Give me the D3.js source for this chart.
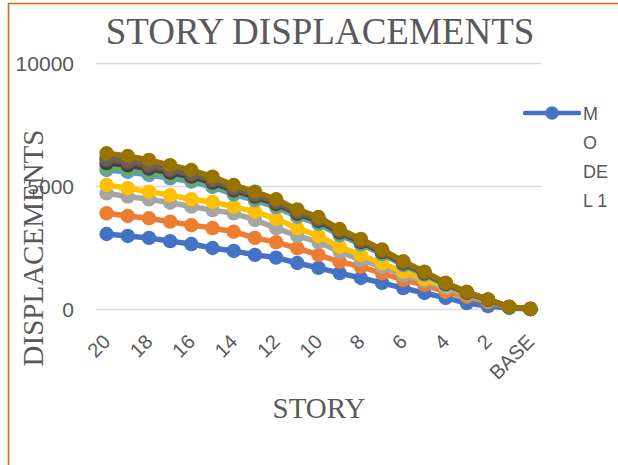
<!DOCTYPE html>
<html>
<head>
<meta charset="utf-8">
<script src="https://cdn.jsdelivr.net/npm/d3@7"></script>
<style>
  html, body { margin: 0; padding: 0; background: #fff; }
  svg { display: block; }
</style>
</head>
<body>
<svg id="chart" width="618" height="465"></svg>
<script>
// Stories from the top floor down to the base
const stories = ["20","19","18","17","16","15","14","13","12","11","10","9","8","7","6","5","4","3","2","1","BASE"];
const tickLabels = ["20","18","16","14","12","10","8","6","4","2","BASE"];
const yTicks = [0, 5000, 10000];

const seriesNames = ["MODEL 1","MODEL 2","MODEL 3","MODEL 4","MODEL 5","MODEL 6","MODEL 7","MODEL 8","MODEL 9","MODEL 10"];
const seriesColors = ["#4472C4","#ED7D31","#A5A5A5","#FFC000","#5B9BD5","#70AD47","#264478","#9E480E","#636363","#997300"];

// Displacement per story, one array per model
const model1  = [3050,2970,2890,2760,2640,2480,2360,2200,2090,1870,1670,1460,1260,1060,850,650,450,240,120,40,0];
const model2  = [3890,3780,3690,3550,3410,3290,3140,2890,2720,2470,2200,1920,1720,1450,1180,980,700,500,280,80,0];
const model3  = [4700,4570,4460,4320,4160,4020,3890,3620,3290,2970,2720,2330,1990,1720,1380,1140,850,590,320,80,0];
const model4  = [5040,4910,4770,4630,4460,4350,4160,3960,3660,3290,2970,2530,2200,1860,1520,1220,930,620,340,90,0];
const model5  = [5650,5570,5450,5310,5180,4960,4660,4420,4140,3750,3460,3000,2630,2230,1780,1390,970,630,350,75,0];
const model6  = [5770,5690,5570,5420,5270,5040,4740,4490,4200,3810,3520,3050,2670,2270,1810,1420,990,645,360,77,0];
const model7  = [5930,5840,5710,5540,5380,5140,4820,4570,4270,3880,3580,3110,2720,2310,1850,1450,1015,660,370,80,0];
const model8  = [6060,5960,5820,5640,5470,5220,4890,4630,4330,3930,3630,3150,2760,2345,1880,1470,1030,672,375,81,0];
const model9  = [6140,6040,5890,5700,5520,5265,4935,4670,4370,3965,3660,3180,2790,2370,1900,1485,1042,680,380,82,0];
const model10 = [6330,6220,6060,5850,5650,5380,5040,4770,4460,4050,3740,3250,2850,2420,1940,1520,1070,700,390,85,0];

const seriesValues = [model1, model2, model3, model4, model5, model6, model7, model8, model9, model10];

const series = seriesNames.map((name, i) => ({
  name,
  color: seriesColors[i],
  points: stories.map((s, j) => ({ story: s, value: seriesValues[i][j] }))
}));

const svg = d3.select("#chart");
const plot = { left: 96, right: 541, top: 63, bottom: 309 };

const x = d3.scaleBand().domain(stories).range([plot.left, plot.right]);
const y = d3.scaleLinear().domain([0, 10000]).range([plot.bottom, plot.top]);

const textGray = "#595959";

// Chart area frame
svg.append("rect")
  .attr("x", 8.5).attr("y", 3.5)
  .attr("width", 800).attr("height", 600)
  .attr("fill", "none")
  .attr("stroke", "#D06A22")
  .attr("stroke-width", 1.6);

// Title
svg.append("text")
  .attr("x", 320).attr("y", 44)
  .attr("text-anchor", "middle")
  .attr("font-family", "'Liberation Serif', 'Times New Roman', serif")
  .attr("font-size", 37)
  .attr("fill", textGray)
  .text("STORY DISPLACEMENTS");

// Gridlines and y tick labels
const yAxis = d3.axisLeft(y).tickValues(yTicks).tickFormat(d3.format("d"))
  .tickSize(-(plot.right - plot.left)).tickPadding(22);
const gy = svg.append("g").attr("transform", `translate(${plot.left},0)`).call(yAxis);
gy.select(".domain").remove();
gy.selectAll(".tick line").attr("stroke", "#D9D9D9").attr("stroke-width", 1.5);
gy.selectAll(".tick text")
  .attr("font-family", "'Liberation Sans', Arial, sans-serif")
  .attr("font-size", 21)
  .attr("fill", textGray)
  .attr("dy", "0.36em");

// Y axis title
svg.append("text")
  .attr("transform", "translate(43,248) rotate(-90)")
  .attr("text-anchor", "middle")
  .attr("font-family", "'Liberation Serif', 'Times New Roman', serif")
  .attr("font-size", 29)
  .attr("fill", textGray)
  .text("DISPLACEMENTS");

// X tick labels (every other story), rotated
const xAxis = d3.axisBottom(x).tickValues(tickLabels).tickSize(0).tickPadding(0);
const gx = svg.append("g").attr("transform", `translate(0,${plot.bottom})`).call(xAxis);
gx.select(".domain").remove();
gx.selectAll(".tick text")
  .attr("font-family", "'Liberation Sans', Arial, sans-serif")
  .attr("font-size", 20)
  .attr("fill", textGray)
  .attr("text-anchor", "end")
  .attr("dy", 0)
  .attr("transform", "translate(5,34) rotate(-45)");

// X axis title
svg.append("text")
  .attr("x", 319).attr("y", 418)
  .attr("text-anchor", "middle")
  .attr("font-family", "'Liberation Serif', 'Times New Roman', serif")
  .attr("font-size", 29)
  .attr("fill", textGray)
  .text("STORY");

// Series: line followed by its markers, later models drawn on top
const line = d3.line()
  .x(d => x(d.story) + x.bandwidth() / 2)
  .y(d => y(d.value));

const gSeries = svg.append("g");
series.forEach(s => {
  const g = gSeries.append("g");
  g.append("path")
    .datum(s.points)
    .attr("d", line)
    .attr("fill", "none")
    .attr("stroke", s.color)
    .attr("stroke-width", 5.5)
    .attr("stroke-linejoin", "round");
  g.selectAll("circle")
    .data(s.points)
    .join("circle")
    .attr("cx", d => x(d.story) + x.bandwidth() / 2)
    .attr("cy", d => y(d.value))
    .attr("r", 7.2)
    .attr("fill", s.color);
});

// Legend (first entry)
const lg = svg.append("g");
lg.append("line")
  .attr("x1", 525).attr("x2", 579)
  .attr("y1", 113).attr("y2", 113)
  .attr("stroke", series[0].color)
  .attr("stroke-width", 4.5)
  .attr("stroke-linecap", "round");
lg.append("circle")
  .attr("cx", 552).attr("cy", 113).attr("r", 6.7)
  .attr("fill", series[0].color);
const legendText = lg.append("text")
  .attr("font-family", "'Liberation Sans', Arial, sans-serif")
  .attr("font-size", 18)
  .attr("fill", textGray);
["M", "O", "DE", "L 1"].forEach((part, i) => {
  legendText.append("tspan")
    .attr("x", 583)
    .attr("y", 120 + i * 29)
    .text(part);
});
</script>
</body>
</html>
